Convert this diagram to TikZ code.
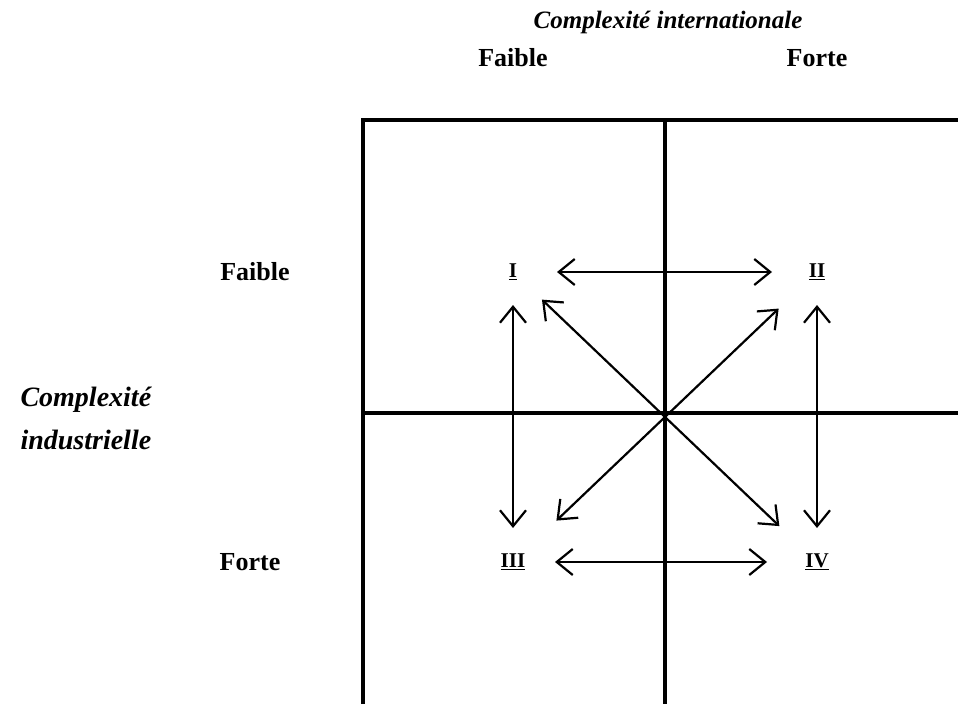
\documentclass[tikz,border=0pt]{standalone}
\usepackage{fontspec}
\setmainfont{Liberation Serif}
\usetikzlibrary{arrows.meta}
\tikzset{
  lbl/.style={font=\fontsize{26}{30}\selectfont\bfseries},
  ttl/.style={font=\fontsize{25}{30}\selectfont\bfseries\itshape},
  sidettl/.style={font=\fontsize{28}{43}\selectfont\bfseries\itshape},
  num/.style={font=\fontsize{21}{24}\selectfont\bfseries},
  grid/.style={line width=4pt},
  dbl/.style={{Straight Barb[length=16pt,width=26pt]}-{Straight Barb[length=16pt,width=26pt]},line width=2.2pt}
}
\begin{document}
\begin{tikzpicture}[x=1pt,y=-1pt]
                \useasboundingbox (0,0) rectangle (958,704);
                % axes titles
                \node[ttl] (titleX) at (668,22) {Complexit\'e internationale};
                \node[lbl] (lowX) at (513,58) {Faible};
                \node[lbl] (highX) at (817,58) {Forte};
                \node[sidettl,align=left,anchor=west] (titleY) at (17,418) {Complexit\'e\\industrielle};
                \node[lbl] (lowY) at (255,272) {Faible};
                \node[lbl] (highY) at (250,562) {Forte};
                % grid
                \draw[grid] (363,704) -- (363,120) -- (958,120);
                \draw[grid] (665,120) -- (665,704);
                \draw[grid] (363,413) -- (958,413);
                % quadrants
                \node[num] (I) at (513,272) {\underline{I}};
                \node[num] (II) at (817,272) {\underline{II}};
                \node[num] (III) at (513,562) {\underline{III}};
                \node[num] (IV) at (817,562) {\underline{IV}};
                \draw[dbl,shorten <=44pt,shorten >=45pt] (I.center) -- (II.center);
                \draw[dbl,shorten <=42pt,shorten >=50pt] (III.center) -- (IV.center);
                \draw[dbl,shorten <=33pt,shorten >=34pt] (I.center) -- (III.center);
                \draw[dbl,shorten <=33pt,shorten >=34pt] (II.center) -- (IV.center);
                \draw[dbl,shorten <=40pt,shorten >=52pt] (I.center) -- (IV.center);
                \draw[dbl,shorten <=53pt,shorten >=60pt] (II.center) -- (III.center);
            \end{tikzpicture}
\end{document}
